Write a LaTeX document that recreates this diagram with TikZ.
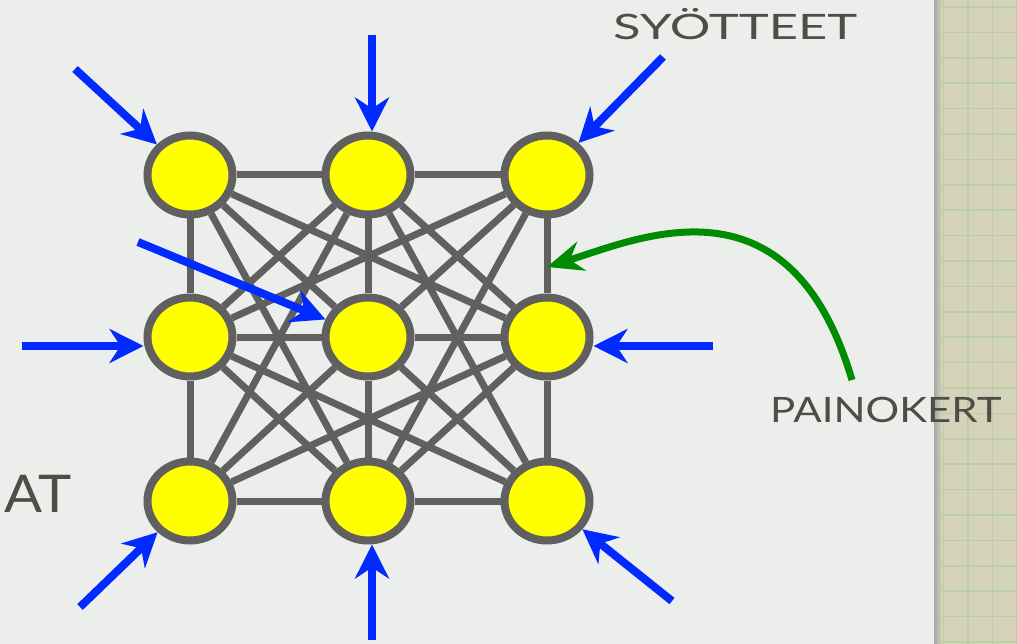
\documentclass[tikz,border=0pt]{standalone}
\usepackage{fontspec}
\usepackage{graphicx}
\setmainfont{Lato}
\usetikzlibrary{arrows.meta,shapes.geometric}
\definecolor{paper}{RGB}{236,238,235}
\definecolor{strip}{RGB}{213,212,186}
\definecolor{gridgreen}{RGB}{186,206,168}
\definecolor{edgegray}{RGB}{96,96,96}
\definecolor{nodeyellow}{RGB}{255,255,0}
\definecolor{inputblue}{RGB}{0,42,255}
\definecolor{weightgreen}{RGB}{0,140,0}
\definecolor{ink}{RGB}{80,76,72}

\begin{document}
\begin{tikzpicture}[x=1pt,y=-1pt]
  \tikzstyle{neuron} = [ellipse, draw=edgegray, fill=nodeyellow, line width=8pt,
  minimum width=85pt, minimum height=79pt, inner sep=0pt]
  \tikzstyle{line} = [draw=edgegray, line width=7pt]
  \tikzstyle{input} = [draw=inputblue, line width=8pt, -{Stealth[length=34pt,width=34pt,inset=11pt]}]
  \tikzstyle{weight} = [draw=weightgreen, line width=7pt, -{Stealth[length=36pt,width=30pt,inset=12pt]}]
  \tikzstyle{sketch} = [text=ink, inner sep=0pt]
\useasboundingbox (0,0) rectangle (1017,644);
\fill [paper] (0,0) rectangle (1017,644);
% graph paper on the right
\fill [strip] (934,0) rectangle (1017,644);
\draw [gridgreen, line width=1.5pt, xstep=24.5pt, ystep=25.4pt, shift={(968,7)}] (-34,-7) grid (49,637);
\shade [left color=black!35, right color=strip] (934,0) rectangle (942,644);
\node [neuron] (1) at (190,175) {};
\node [neuron] (2) at (368,175) {};
\node [neuron] (3) at (547,175) {};
\node [neuron] (4) at (190,337) {};
\node [neuron] (5) at (368,337) {};
\node [neuron] (6) at (547,337) {};
\node [neuron] (7) at (190,501) {};
\node [neuron] (8) at (368,501) {};
\node [neuron] (9) at (547,501) {};
\path [line] (1) -- (2) -- (3);
\path [line] (4) -- (5) -- (6);
\path [line] (7) -- (8) -- (9);
\path [line] (1) -- (4) -- (7);
\path [line] (2) -- (5) -- (8);
\path [line] (3) -- (6) -- (9);
\path [line] (1) -- (5) -- (9);
\path [line] (3) -- (5) -- (7);
\path [line] (2) -- (6) -- (8) -- (4) -- (2);
\path [line] (1) -- (6) -- (7) -- (2) -- (9) -- (4) -- (3) -- (8) -- (1);
\coordinate (a1) at (75,69);
\coordinate (a2) at (372,35);
\coordinate (a3) at (663,57);
\coordinate (a4) at (22,346);
\coordinate (a5) at (138,242);
\coordinate (a6) at (713,346);
\coordinate (a7) at (80,607);
\coordinate (a8) at (372,640);
\coordinate (a9) at (672,601);
\path [input] (a1) -- (1);
\path [input] (a2) -- (a2 |- 2.north);
\path [input] (a3) -- (3);
\path [input] (a4) -- (a4 -| 4.west);
\path [input] (a5) -- (5);
\path [input] (a6) -- (a6 -| 6.east);
\path [input] (a7) -- (7);
\path [input] (a8) -- (a8 |- 8.south);
\path [input] (a9) -- (9);
\coordinate (w0) at (852,380);
\coordinate (w1) at (547,267);
\path [weight] (w0) .. controls (790,170) and (640,238) .. (w1);
\node [sketch, anchor=base west] (syotteet) at (613,40) {\fontsize{35}{35}\selectfont\scalebox{1.45}[1]{SYÖTTEET}};
\node [sketch, anchor=base west] (painot) at (770,422) {\fontsize{35}{35}\selectfont\scalebox{1.2}[1]{PAINOKERT}};
\node [sketch, anchor=base east] (at) at (72,512) {\fontsize{52}{52}\selectfont\scalebox{1.08}[1]{AT}};
\end{tikzpicture}
\end{document}
